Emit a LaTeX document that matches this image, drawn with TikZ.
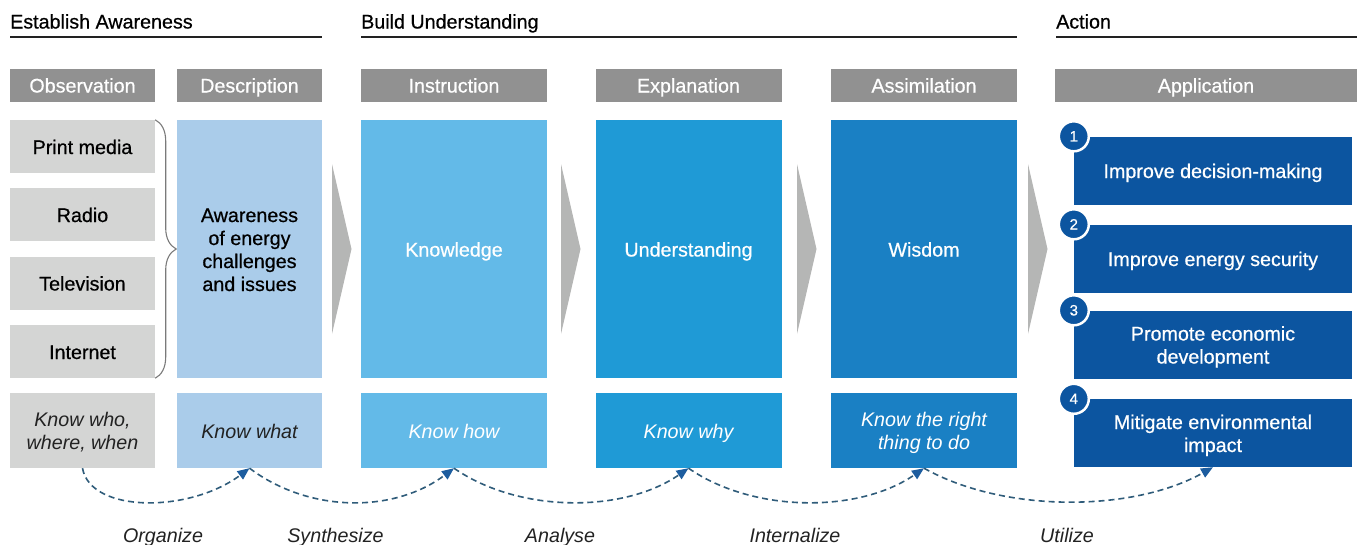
\documentclass[tikz,border=0pt]{standalone}
\usepackage{fontspec}
\setmainfont{Liberation Sans}
\newfontfamily\medium{Liberation Sans}[FakeBold=0.6]
\usepackage{xcolor}
\usepackage{tikz}
\usetikzlibrary{arrows.meta,decorations.pathreplacing}

\definecolor{hdrgray}{HTML}{919191}
\definecolor{itemgray}{HTML}{D4D5D4}
\definecolor{chevgray}{HTML}{B5B6B5}
\definecolor{bracegray}{HTML}{7A7A7A}
\definecolor{descblue}{HTML}{AACCEA}
\definecolor{insblue}{HTML}{63BAE8}
\definecolor{expblue}{HTML}{1F9AD6}
\definecolor{assblue}{HTML}{1A80C4}
\definecolor{appblue}{HTML}{0C55A0}
\definecolor{flowblue}{HTML}{2F5C7A}
\definecolor{tipblue}{HTML}{1D5D9F}
\definecolor{darktext}{HTML}{222222}

\newcommand{\txtsize}{\fontsize{19.7}{23}\selectfont}

\tikzset{
  base/.style={rectangle, inner sep=0pt, align=center, text height=15pt, text depth=0pt,
    font=\txtsize\medium},
  twolines/.style={text height=38pt},
  fourlines/.style={text height=84pt},
  narrow/.style={minimum width=145pt},
  wide/.style={minimum width=186pt},
  title/.style={anchor=base west, inner sep=0pt, font=\txtsize\medium, text=black},
  rule/.style={draw=darktext, line width=1.2pt},
  hdr/.style={base, fill=hdrgray, text=white, minimum height=33pt},
  media/.style={base, narrow, fill=itemgray, text=black, minimum height=53pt},
  big/.style={base, minimum height=258pt, text=white},
  know/.style={base, minimum height=75pt, text=white, font=\txtsize\rmfamily\itshape},
  app/.style={base, fill=appblue, text=white, minimum width=278pt, minimum height=68pt},
  num/.style={circle, fill=appblue, draw=white, line width=2.5pt, minimum size=30pt,
    inner sep=0pt, text=white, font=\fontsize{15}{15}\selectfont\medium},
  mediabrace/.style={decorate, decoration={brace, amplitude=21pt}, draw=bracegray, line width=1.1pt},
  flow/.style={draw=flowblue, line width=1.6pt, dash pattern=on 6pt off 4pt,
    -{Triangle[length=12pt,width=10pt,color=tipblue]}},
  verb/.style={anchor=base, inner sep=0pt, font=\txtsize\itshape, text=darktext}
}

\begin{document}
\begin{tikzpicture}[x=1pt,y=-1pt]
    \useasboundingbox (0,0) rectangle (1357,544);
    % stage titles
    \node[title] (aware) at (10,28.5) {Establish Awareness};
    \draw[rule] (10,37) -- (322,37);
    \node[title] (build) at (361,28.5) {Build Understanding};
    \draw[rule] (361,37) -- (1017,37);
    \node[title] (action) at (1056,28.5) {Action};
    \draw[rule] (1056,37) -- (1357,37);

    % grey headers
    \node[hdr, narrow] (hobs) at (82.5,85) {Observation};
    \node[hdr, narrow] (hdes) at (249.5,85) {Description};
    \node[hdr, wide] (hins) at (454,85) {Instruction};
    \node[hdr, wide] (hexp) at (688.5,85) {Explanation};
    \node[hdr, wide] (hass) at (924,85) {Assimilation};
    \node[hdr, minimum width=302pt] (happ) at (1206,85) {Application};

    % media
    \node[media] (print) at (82.5,146.5) {Print media};
    \node[media] (radio) at (82.5,214.5) {Radio};
    \node[media] (tv) at (82.5,283) {Television};
    \node[media] (net) at (82.5,351.5) {Internet};
    \draw[mediabrace] (print.north east) -- (net.south east);

    % columns
    \node[big, narrow, fourlines, fill=descblue, text=black] (awareness) at (249.5,249) {Awareness\\of energy\\challenges\\and issues};
    \node[big, wide, fill=insblue] (knowledge) at (454,249) {Knowledge};
    \node[big, wide, fill=expblue] (understanding) at (688.5,249) {Understanding};
    \node[big, wide, fill=assblue] (wisdom) at (924,249) {Wisdom};

    % chevrons
    \foreach \x in {332,561,797,1028}
      \fill[chevgray] (\x,164) -- (\x+19.5,249) -- (\x,334) -- cycle;

    % application
    \node[app] (app1) at (1213,170.5) {Improve decision-making};
    \node[app] (app2) at (1213,258.5) {Improve energy security};
    \node[app, twolines] (app3) at (1213,344.5) {Promote economic\\development};
    \node[app, twolines] (app4) at (1213,433) {Mitigate environmental\\impact};
    \foreach \i in {1,...,4}
      \node[num] (n\i) at (app\i.north west) {\i};

    % know row
    \node[know, narrow, twolines, fill=itemgray, text=darktext] (kwho) at (82.5,430.5) {Know who,\\where, when};
    \node[know, narrow, fill=descblue, text=darktext] (kwhat) at (249.5,430.5) {Know what};
    \node[know, wide, fill=insblue] (khow) at (454,430.5) {Know how};
    \node[know, wide, fill=expblue] (kwhy) at (688.5,430.5) {Know why};
    \node[know, wide, twolines, fill=assblue] (kright) at (924,430.5) {Know the right\\thing to do};

    % dashed flow
    \draw[flow] (kwho.south) .. controls +(8,45) and +(-60,45) .. (kwhat.south);
    \draw[flow] (kwhat.south) .. controls +(60,45) and +(-60,45) .. (khow.south);
    \draw[flow] (khow.south) .. controls +(65,45) and +(-65,45) .. (kwhy.south);
    \draw[flow] (kwhy.south) .. controls +(65,45) and +(-65,45) .. (kright.south);
    \draw[flow] (kright.south) .. controls +(80,45) and +(-80,45) .. (app4.south);

    % verbs
    \node[verb] (organize) at (163,542) {Organize};
    \node[verb] (synthesize) at (335.5,542) {Synthesize};
    \node[verb] (analyse) at (560,542) {Analyse};
    \node[verb] (internalize) at (795,542) {Internalize};
    \node[verb] (utilize) at (1067,542) {Utilize};
\end{tikzpicture}
\end{document}
